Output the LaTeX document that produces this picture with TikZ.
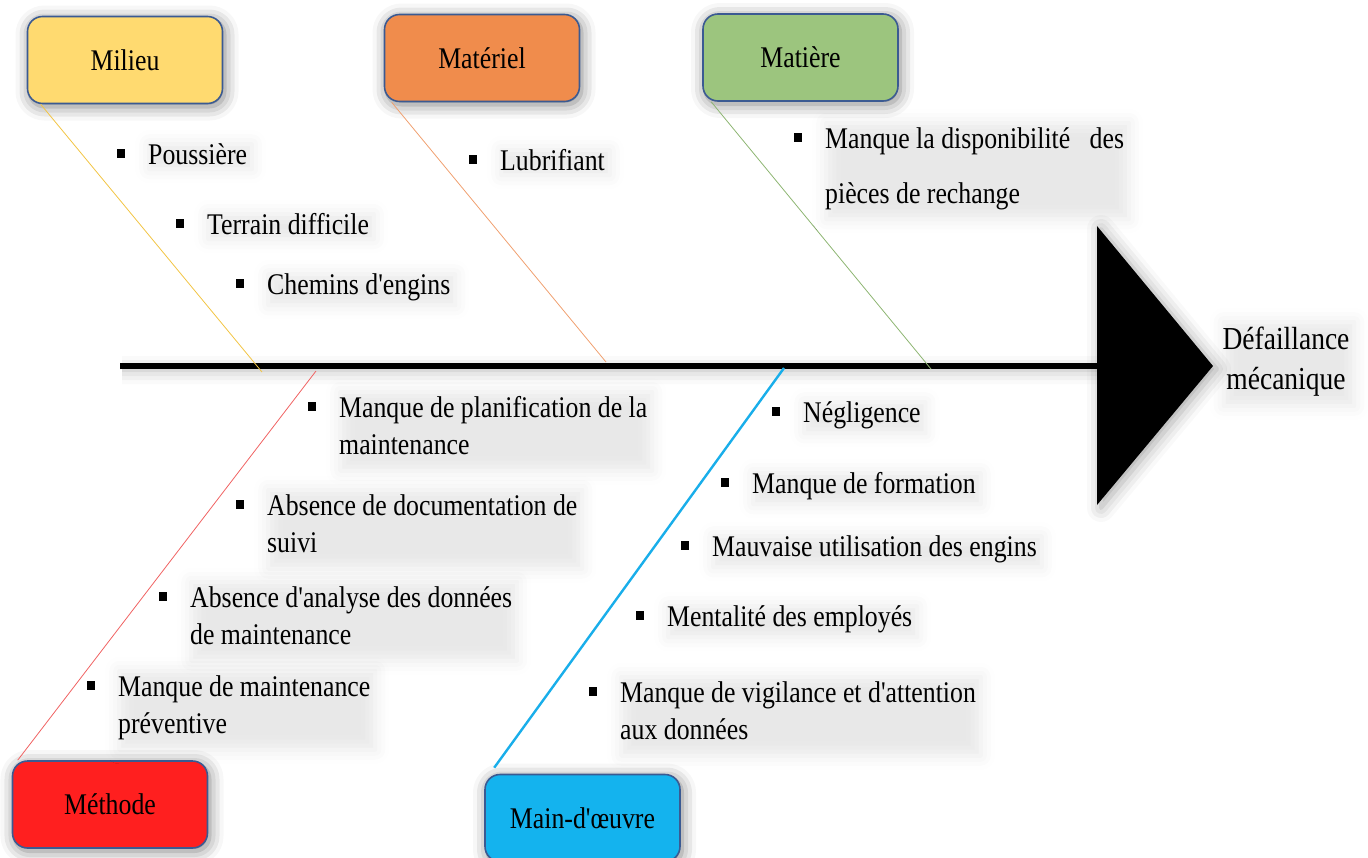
\documentclass[tikz,border=0pt]{standalone}
\usepackage{fontspec}
\setmainfont{Liberation Serif}[FakeStretch=0.86, Ligatures=TeXOff]
\usetikzlibrary{shadows.blur}

\definecolor{milieuC}{HTML}{FFDA70}
\definecolor{materielC}{HTML}{F08C4C}
\definecolor{matiereC}{HTML}{9CC57E}
\definecolor{methodeC}{HTML}{FF1F1F}
\definecolor{mainC}{HTML}{14B3EE}
\definecolor{edgeC}{HTML}{3B5A92}
\definecolor{milieuL}{HTML}{F2C443}
\definecolor{materielL}{HTML}{F0A070}
\definecolor{matiereL}{HTML}{8DB572}
\definecolor{methodeL}{HTML}{F06262}
\definecolor{mainL}{HTML}{19AEEA}

% square bullet hung to the left of an item
\newcommand\puce{\llap{\rule[6.5pt]{7.5pt}{8.5pt}\hspace{23.5pt}}}

\begin{document}
\begin{tikzpicture}[x=1pt,y=-1pt,
  catbox/.style={draw=edgeC, line width=1.6pt, rounded corners=15pt,
    minimum width=195pt, minimum height=87pt, inner sep=0pt,
    font=\fontsize{30}{36}\selectfont,
    blur shadow={shadow xshift=2pt, shadow yshift=-3pt,
      shadow blur radius=14pt, shadow opacity=50}},
  haze/.style={blur shadow={shadow xshift=3pt, shadow yshift=-3pt,
      shadow blur radius=14pt, shadow opacity=9}},
  cause/.style={haze, anchor=base west, inner sep=2pt, align=left,
    font=\fontsize{30}{37.5}\selectfont},
  bone/.style={line width=0.8pt},
  spine/.style={line width=6.5pt, black,
    blur shadow={shadow xshift=2pt, shadow yshift=-4pt,
      shadow blur radius=14pt, shadow opacity=30}},
]
\useasboundingbox (0,0) rectangle (1368,857);

% category boxes
\node[catbox, fill=milieuC]   (milieu)     at (125,60)    {Milieu};
\node[catbox, fill=materielC] (materiel)   at (482,58)    {Matériel};
\node[catbox, fill=matiereC]  (matiere)    at (800.5,57.5){Matière};
\node[catbox, fill=methodeC]  (methode)    at (110,804.5) {Méthode};
\node[catbox, fill=mainC]     (mainoeuvre) at (582.5,818) {Main-d'œuvre};

% spine and head
\coordinate (spineL) at (120,366);
\coordinate (spineR) at (1100,366);
\coordinate (headTop) at (1097,226);
\coordinate (headTip) at (1213,366);
\coordinate (headBot) at (1097,505);
\draw[spine] (spineL) -- (spineR);
\fill[black, blur shadow={shadow xshift=4pt, shadow yshift=-3pt,
    shadow blur radius=14pt, shadow opacity=35}]
  (headTop) -- (headTip) -- (headBot) -- cycle;

\node[haze, anchor=base, inner sep=2pt, font=\fontsize{32}{40}\selectfont]
  (effet) at (1286,349)
  {\begin{tabular}[t]{@{}c@{}}Défaillance\\mécanique\end{tabular}};

% bones
\coordinate (jMilieu)   at (262,372);
\coordinate (jMateriel) at (606,362);
\coordinate (jMatiere)  at (931,369);
\coordinate (jMethode)  at (316,371);
\coordinate (jMain)     at (784,368);
\draw[bone, milieuL]   ([xshift=14pt]milieu.south west) -- (jMilieu);
\draw[bone, materielL] ([xshift=8pt]materiel.south west) -- (jMateriel);
\draw[bone, matiereL]  ([xshift=9pt]matiere.south west) -- (jMatiere);
\draw[bone, methodeL]  (jMethode) -- ([xshift=6pt]methode.north west);
\draw[line width=2.4pt, mainL] (jMain) -- ([xshift=10pt,yshift=6pt]mainoeuvre.north west);

% causes: Milieu
\node[cause] (c1) at (146,164) {\puce Poussière};
\node[cause] (c2) at (205,234) {\puce Terrain difficile};
\node[cause] (c3) at (265,294) {\puce Chemins d'engins};
% causes: Matériel
\node[cause] (c4) at (498,170) {\puce Lubrifiant};
% causes: Matière
\node[cause] (c5) at (823,148) {\puce\begin{tabular}[t]{@{}l@{}}Manque la disponibilité~~~des\\[17.5pt]pièces de rechange\end{tabular}};
% causes: Méthode
\node[cause] (c6) at (337,417) {\puce\begin{tabular}[t]{@{}l@{}}Manque de planification de la\\maintenance\end{tabular}};
\node[cause] (c7) at (265,515) {\puce\begin{tabular}[t]{@{}l@{}}Absence de documentation de\\suivi\end{tabular}};
\node[cause] (c8) at (188,607) {\puce\begin{tabular}[t]{@{}l@{}}Absence d'analyse des données\\de maintenance\end{tabular}};
\node[cause] (c9) at (116,696) {\puce\begin{tabular}[t]{@{}l@{}}Manque de maintenance\\préventive\end{tabular}};
% causes: Main-d'œuvre
\node[cause] (c10) at (801,422) {\puce Négligence};
\node[cause] (c11) at (750,493) {\puce Manque de formation};
\node[cause] (c12) at (710,556) {\puce Mauvaise utilisation des engins};
\node[cause] (c13) at (665,626) {\puce Mentalité des employés};
\node[cause] (c14) at (618,702) {\puce\begin{tabular}[t]{@{}l@{}}Manque de vigilance et d'attention\\aux données\end{tabular}};
\end{tikzpicture}
\end{document}
